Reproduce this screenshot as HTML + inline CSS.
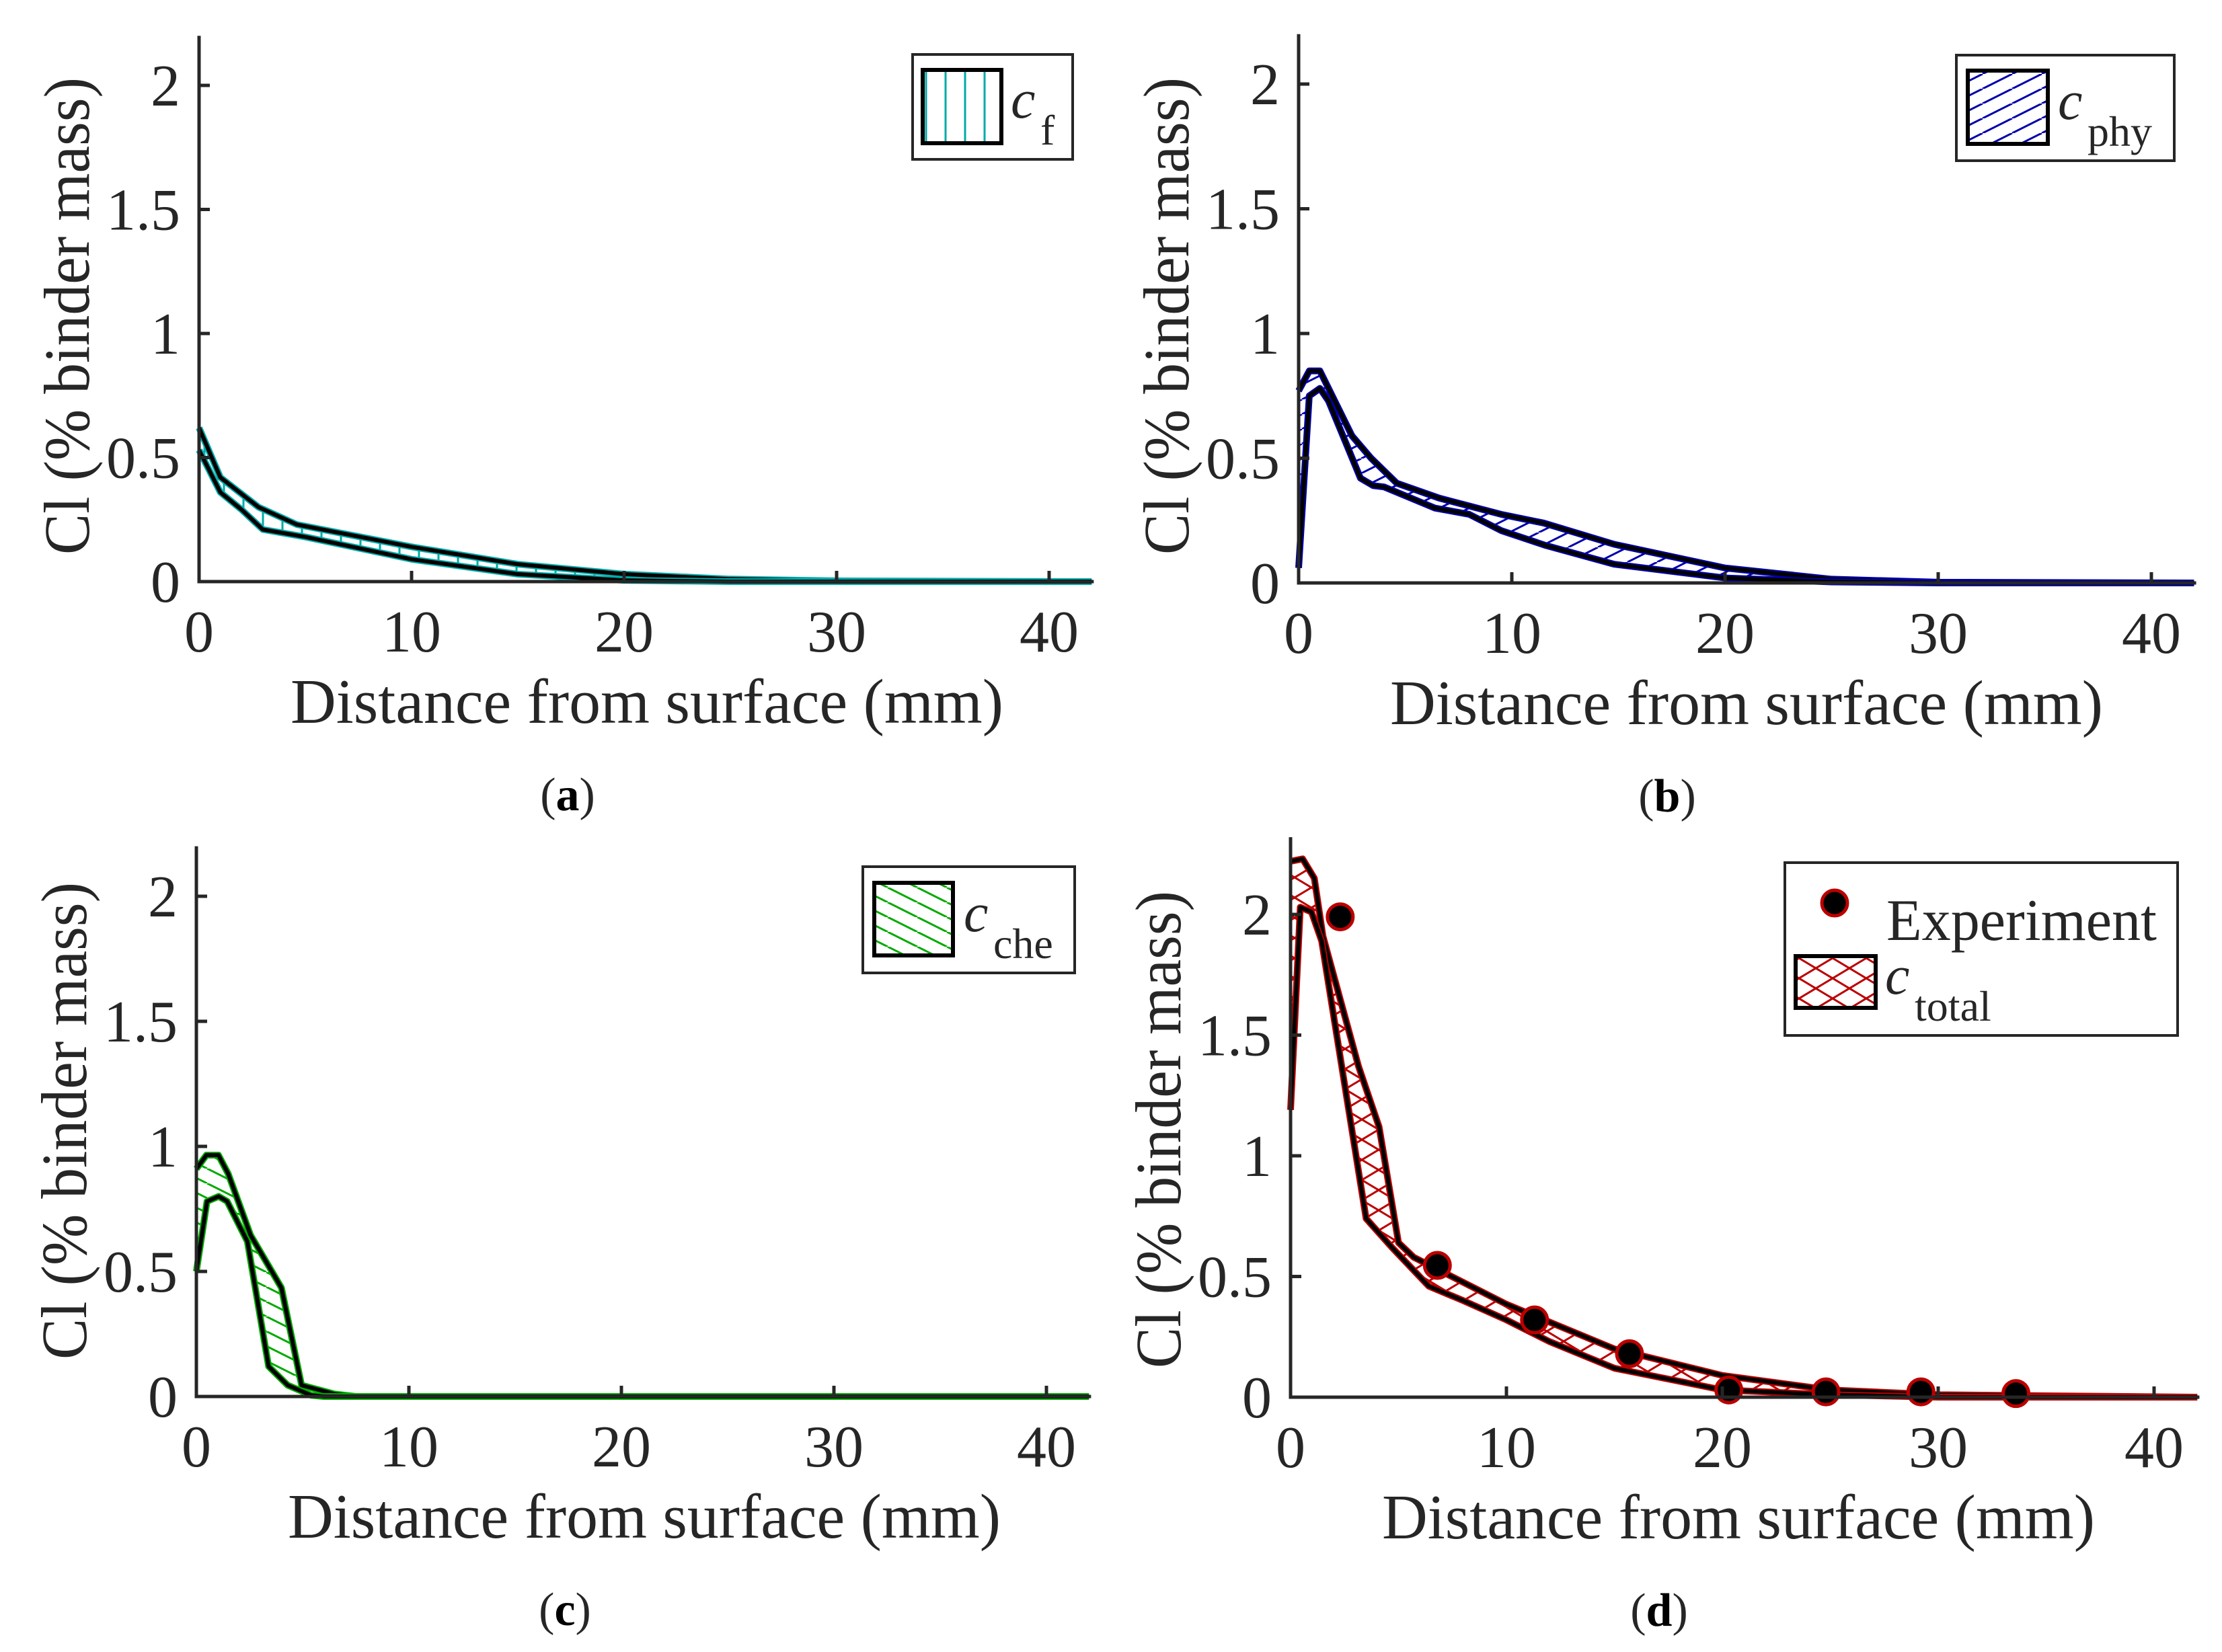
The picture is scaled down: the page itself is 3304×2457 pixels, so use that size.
<!DOCTYPE html>
<html><head><meta charset="utf-8">
<style>
html,body{margin:0;padding:0;background:#fff;}
svg{display:block;}
text{font-family:"Liberation Serif",serif;fill:#262626;}
</style></head>
<body>
<svg id="fig" width="3304" height="2457" viewBox="0 0 3304 2457" xmlns="http://www.w3.org/2000/svg">
<defs>
<pattern id="hatchA" patternUnits="userSpaceOnUse" width="29" height="40"><line x1="14" y1="0" x2="14" y2="40" stroke="#00aaaa" stroke-width="3"/></pattern>
<pattern id="hatchB" patternUnits="userSpaceOnUse" width="44" height="22"><line x1="0" y1="22" x2="44" y2="0" stroke="#0000aa" stroke-width="3"/><line x1="-44" y1="22" x2="0" y2="0" stroke="#0000aa" stroke-width="3"/><line x1="44" y1="22" x2="88" y2="0" stroke="#0000aa" stroke-width="3"/></pattern>
<pattern id="hatchC" patternUnits="userSpaceOnUse" width="44" height="22"><line x1="0" y1="0" x2="44" y2="22" stroke="#00aa00" stroke-width="3"/><line x1="-44" y1="0" x2="0" y2="22" stroke="#00aa00" stroke-width="3"/><line x1="44" y1="0" x2="88" y2="22" stroke="#00aa00" stroke-width="3"/></pattern>
<pattern id="hatchD" patternUnits="userSpaceOnUse" width="50" height="30"><line x1="0" y1="0" x2="50" y2="30" stroke="#bb0000" stroke-width="3"/><line x1="0" y1="30" x2="50" y2="0" stroke="#bb0000" stroke-width="3"/></pattern>
</defs>
</svg>
<script>
// ---- data ----
const xTicks = [0,10,20,30,40];
const yTicks = [0,0.5,1,1.5,2];
const yTickLabels = ["0","0.5","1","1.5","2"];

const aUpperX = [0,1,2.8,4.6,10,15,20,25,30,42];
const aUpperY = [0.62,0.42,0.30,0.23,0.14,0.07,0.03,0.01,0.003,0];
const aLowerX = [0,1,2,3,5,10,15,20,25,42];
const aLowerY = [0.53,0.36,0.29,0.21,0.18,0.09,0.03,0.005,0,0];

const bUpperX = [0,0.5,1.0,2.5,3.4,4.6,6.6,9.5,11.5,14.8,20,25,30,42];
const bUpperY = [0.77,0.85,0.85,0.59,0.50,0.40,0.34,0.275,0.24,0.155,0.06,0.015,0.003,0];
const bLowerX = [0,0.5,1.0,1.4,2.9,3.5,4.0,6.4,8.0,9.5,11.6,14.8,20,25,30,42];
const bLowerY = [0.06,0.75,0.78,0.73,0.42,0.39,0.385,0.30,0.275,0.21,0.15,0.075,0.02,0.004,0,0];

const cUpperX = [0,0.47,1.04,1.5,2.55,4.0,4.95,6.5,7.5,42];
const cUpperY = [0.91,0.965,0.965,0.89,0.645,0.435,0.045,0.01,0,0];
const cLowerX = [0,0.5,1.05,1.45,2.4,3.4,4.3,5.4,6,42];
const cLowerY = [0.50,0.78,0.80,0.78,0.62,0.12,0.045,0.005,0,0];

const dUpperX = [0,0.56,1.1,1.5,3.15,4.1,5.0,5.7,10,15,20,25,30,42];
const dUpperY = [2.22,2.23,2.15,1.91,1.37,1.12,0.64,0.58,0.385,0.2,0.09,0.03,0.01,0];
const dLowerX = [0,0.45,0.97,1.44,3.5,4.7,6.4,8,10,12,15,20,25,30,42];
const dLowerY = [1.19,2.03,2.01,1.89,0.74,0.62,0.46,0.40,0.32,0.23,0.12,0.03,0.01,0,0];
const expX = [2.3,6.8,11.3,15.7,20.3,24.8,29.2,33.6];
const expY = [1.99,0.546,0.32,0.18,0.03,0.022,0.022,0.015];

// ---- drawing ----
const svg = document.getElementById('fig');
const NS = 'http://www.w3.org/2000/svg';
function mk(tag, attrs, parent){
  const e = document.createElementNS(NS, tag);
  for (const k in attrs) e.setAttribute(k, attrs[k]);
  (parent||svg).appendChild(e);
  return e;
}

function panel(cfg){
  const g = mk('g', {});
  
  
  const sx = v => cfg.x0 + v * cfg.pxmm;
  const sy = v => cfg.y0 - v * cfg.pxu;
  const pts = [];
  cfg.ux.forEach((x,i)=>pts.push(sx(x)+','+sy(cfg.uy[i])));
  for (let i = cfg.lx.length-1; i>=0; i--) pts.push(sx(cfg.lx[i])+','+sy(cfg.ly[i]));
  const band = mk('polygon', {points: pts.join(' '), fill: 'url(#'+cfg.pat+')', stroke: 'none'}, g);
  
  
  [[cfg.ux,cfg.uy,'upper'],[cfg.lx,cfg.ly,'lower']].forEach(([xs,ys,nm])=>{
    const p = xs.map((x,i)=>sx(x)+','+sy(ys[i])).join(' ');
    const l1 = mk('polyline', {points:p, fill:'none', stroke:cfg.color, 'stroke-width':10, 'stroke-linejoin':'round'}, g);
    
    
    const l2 = mk('polyline', {points:p, fill:'none', stroke:'#000', 'stroke-width':6, 'stroke-linejoin':'round'}, g);
    
    
  });
  if (cfg.ex) {
    cfg.ex.forEach((x,i)=>{
      const c = mk('circle', {cx:sx(x), cy:sy(cfg.ey[i]), r:19, fill:'#000', stroke:'#bb0000', 'stroke-width':5}, g);
      
      
    });
  }
  const top = cfg.y0 - cfg.ymax*cfg.pxu, right = sx(cfg.xmax);
  const ax = mk('path', {d:'M'+cfg.x0+','+top+' L'+cfg.x0+','+cfg.y0+' L'+right+','+cfg.y0, fill:'none', stroke:'#262626', 'stroke-width':5}, g);
  
  
  xTicks.forEach(v=>{
    const X = sx(v);
    mk('line', {x1:X, y1:cfg.y0, x2:X, y2:cfg.y0-16, stroke:'#262626', 'stroke-width':5}, g);
    const t = mk('text', {x:X, y:cfg.y0+104, 'font-size':88, 'text-anchor':'middle'}, g);
    
    
    t.textContent = String(v);
  });
  yTicks.forEach((v,i)=>{
    const Y = sy(v);
    mk('line', {x1:cfg.x0, y1:Y, x2:cfg.x0+16, y2:Y, stroke:'#262626', 'stroke-width':5}, g);
    const t = mk('text', {x:cfg.x0-28, y:Y+30, 'font-size':88, 'text-anchor':'end'}, g);
    
    
    t.textContent = yTickLabels[i];
  });
  const xl = mk('text', {x:cfg.x0+136, y:cfg.y0+210, 'font-size':94, textLength:1060, lengthAdjust:'spacingAndGlyphs'}, g);
  
  
  xl.textContent = 'Distance from surface (mm)';
  const yc = cfg.ylabY;
  const yl = mk('text', {x:0, y:0, 'font-size':96, 'text-anchor':'middle', textLength:710, lengthAdjust:'spacingAndGlyphs', transform:'translate('+(cfg.x0-164)+','+yc+') rotate(-90)'}, g);
  
  
  yl.textContent = 'Cl (% binder mass)';
  const pl = mk('text', {x:cfg.x0+548, y:cfg.y0+340, 'font-size':70, 'text-anchor':'middle'}, g);
  
  
  pl.innerHTML = '(<tspan font-weight="bold" fill="#000">'+cfg.id+'</tspan>)';
  const L = cfg.leg;
  const lg = mk('g', {}, g);
  
  
  mk('rect', {x:L.x, y:L.y, width:L.w, height:L.h, fill:'#fff', stroke:'#262626', 'stroke-width':4}, lg);
  const pr = mk('rect', {x:L.px, y:L.py, width:L.pw, height:L.ph, fill:'url(#'+cfg.pat+')', stroke:'#000', 'stroke-width':6}, lg);
  
  
  const lt = mk('text', {x:L.tx, y:L.ty, 'font-size':82, 'font-style':'italic', fill:'#000'}, lg);
  
  
  lt.textContent = 'c';
  const ls = mk('text', {x:L.tx+44, y:L.ty+40, 'font-size':64, fill:'#000'}, lg);
  
  
  ls.textContent = L.sub;
  if (L.exp) {
    const mc = mk('circle', {cx:2728, cy:1343, r:19, fill:'#000', stroke:'#bb0000', 'stroke-width':5}, lg);
    
    
    const et = mk('text', {x:2805, y:1398, 'font-size':88, fill:'#000', textLength:402, lengthAdjust:'spacingAndGlyphs'}, lg);
    
    
    et.textContent = 'Experiment';
  }
}

panel({id:'a', x0:296, y0:865, pxmm:31.6, pxu:369, xmax:42.1, ymax:2.2, ylabY:470,
  ux:aUpperX, uy:aUpperY, lx:aLowerX, ly:aLowerY, pat:'hatchA', color:'#00aaaa',
  leg:{x:1357,y:81,w:238,h:156,px:1372,py:104,pw:117,ph:109,tx:1503,ty:175,sub:'f'}});
panel({id:'b', x0:1931, y0:867, pxmm:31.7, pxu:371, xmax:42.1, ymax:2.2, ylabY:470,
  ux:bUpperX, uy:bUpperY, lx:bLowerX, ly:bLowerY, pat:'hatchB', color:'#0000aa',
  leg:{x:2909,y:82,w:324,h:157,px:2926,py:105,pw:119,ph:109,tx:3060,ty:177,sub:'phy'}});
panel({id:'c', x0:292, y0:2077, pxmm:31.6, pxu:372, xmax:42.1, ymax:2.2, ylabY:1667,
  ux:cUpperX, uy:cUpperY, lx:cLowerX, ly:cLowerY, pat:'hatchC', color:'#00aa00',
  leg:{x:1283,y:1289,w:315,h:158,px:1300,py:1313,pw:117,ph:108,tx:1433,ty:1385,sub:'che'}});
panel({id:'d', x0:1919, y0:2078, pxmm:32.1, pxu:359, xmax:42.1, ymax:2.32, ylabY:1680,
  ux:dUpperX, uy:dUpperY, lx:dLowerX, ly:dLowerY, pat:'hatchD', color:'#bb0000',
  ex:expX, ey:expY,
  leg:{x:2654,y:1283,w:584,h:257,px:2670,py:1422,pw:119,ph:77,tx:2803,ty:1478,sub:'total',exp:true}});
</script>
</body></html>
